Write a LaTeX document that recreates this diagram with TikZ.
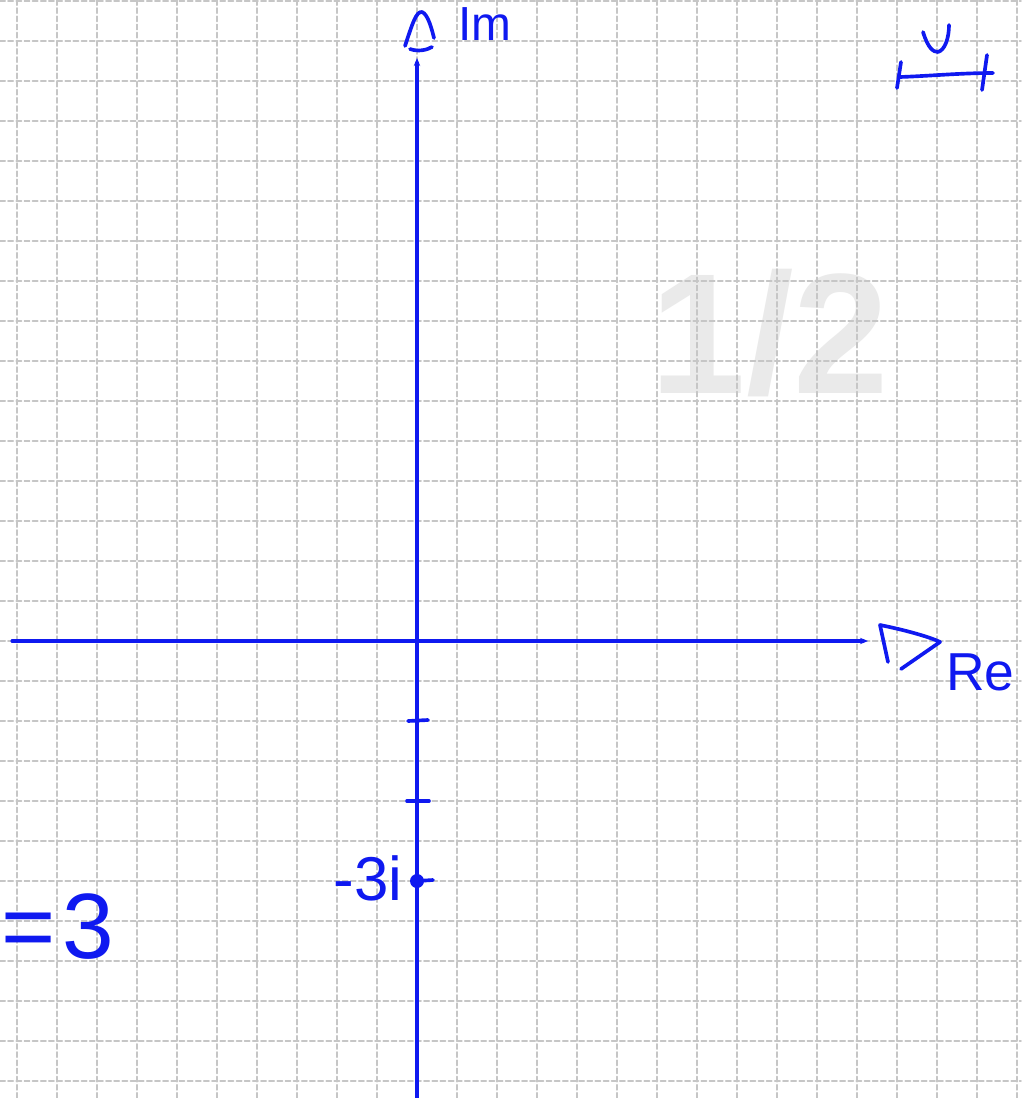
\documentclass[tikz,border=0pt]{standalone}
\usepackage{fontspec}
\setmainfont{Liberation Sans}
\usetikzlibrary{arrows.meta, positioning}
\definecolor{ink}{RGB}{15,25,240}
\definecolor{gridgray}{RGB}{198,198,198}
\definecolor{pagemark}{RGB}{234,234,234}

\begin{document}
\begin{tikzpicture}[x=0.025cm, y=-0.025cm, line cap=round, line join=round,
    axis/.style={ink, line width=2.2pt, -{Stealth[length=2mm, width=1.6mm]}},
    hand/.style={ink, line width=2.6pt},
    gridline/.style={gridgray, line width=1.3pt, dash pattern=on 3.6pt off 2.2pt},
    lbl/.style={text=ink, inner sep=0pt}]
    \useasboundingbox[fill=white] (0,0) rectangle (1021,1098);
    % page number behind the grid
    \node[text=pagemark, font=\fontsize{122}{122}\selectfont\bfseries] (page) at (770,333) {1/2};
    % grid
    \foreach \gx in {17,57,...,1017} \draw[gridline] (\gx,0) -- (\gx,1098);
    \foreach \gy in {1,41,...,1081} \draw[gridline] (0,\gy) -- (1021,\gy);
    % axes
    \coordinate (O) at (417,641);
    \coordinate (west) at (12,641);
    \coordinate (east) at (868,641);
    \coordinate (south) at (417,1098);
    \coordinate (north) at (417,58);
    \draw[axis] (west) -- (east);
    \draw[axis] (south) -- (north);
    % hand drawn heads
    \draw[hand] (405,46) .. controls (412,25) and (416,11) .. (422,12) .. controls (428,14) and (432,30) .. (434,38);
    \draw[hand] (410,49) .. controls (418,52) and (427,50) .. (432,47);
    \draw[hand] (888,662) -- (880,625) .. controls (905,630) and (930,637) .. (940,642) -- (901,669);
    \node[lbl, font=\fontsize{34}{34}\selectfont, anchor=base west] (im) at (458,40) {Im};
    \node[lbl, font=\fontsize{38}{38}\selectfont, anchor=base west] (re) at (946,690) {Re};
    % ticks on the imaginary axis
    \draw[hand] (408,721) -- (428,720);
    \draw[hand] (407,801) -- (429,801);
    \node[circle, fill=ink, inner sep=0pt, minimum size=14*0.025cm] (p) at (417,881) {};
    \draw[hand] (p.center) -- (433,880);
    \node[lbl, font=\fontsize{44}{44}\selectfont, anchor=base east] (plabel) at (403,900) {-3i};
    \node[lbl, font=\fontsize{66}{66}\selectfont, anchor=base west] (eq) at (1,958) {=\kern0.08em3};
    % mark top right
    \draw[hand] (900,77) .. controls (930,76) and (960,73) .. (993,73);
    \draw[hand] (901,62) -- (897,88);
    \draw[hand] (987,55) -- (982,90);
    \draw[hand] (923,32) .. controls (928,48) and (933,52) .. (938,52) .. controls (945,50) and (949,38) .. (949,25);
\end{tikzpicture}
\end{document}
